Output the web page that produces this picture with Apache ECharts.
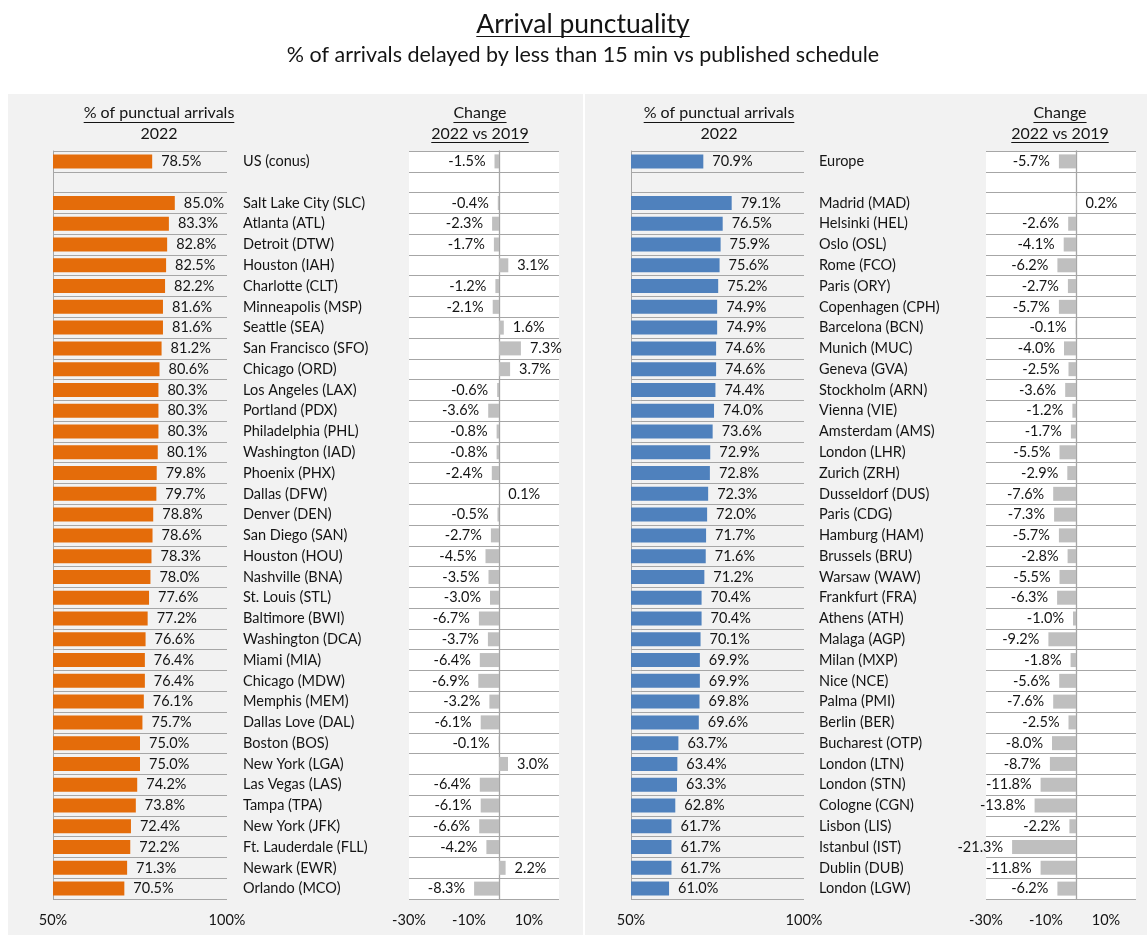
<!DOCTYPE html>
<html><head><meta charset="utf-8">
<script src="https://cdn.jsdelivr.net/npm/echarts@6/dist/echarts.min.js"></script>
<style>html,body{margin:0;padding:0;background:#fff;}#c{width:1147px;height:935px;}</style>
</head><body><div id="c"></div>
<script>
// ---------- DATA ----------
const usAirports = ['US (conus)', '', 'Salt Lake City (SLC)', 'Atlanta (ATL)', 'Detroit (DTW)', 'Houston (IAH)', 'Charlotte (CLT)', 'Minneapolis (MSP)', 'Seattle (SEA)', 'San Francisco (SFO)', 'Chicago (ORD)', 'Los Angeles (LAX)', 'Portland (PDX)', 'Philadelphia (PHL)', 'Washington (IAD)', 'Phoenix (PHX)', 'Dallas (DFW)', 'Denver (DEN)', 'San Diego (SAN)', 'Houston (HOU)', 'Nashville (BNA)', 'St. Louis (STL)', 'Baltimore (BWI)', 'Washington (DCA)', 'Miami (MIA)', 'Chicago (MDW)', 'Memphis (MEM)', 'Dallas Love (DAL)', 'Boston (BOS)', 'New York (LGA)', 'Las Vegas (LAS)', 'Tampa (TPA)', 'New York (JFK)', 'Ft. Lauderdale (FLL)', 'Newark (EWR)', 'Orlando (MCO)'];
const usPunctuality = [78.5, null, 85.0, 83.3, 82.8, 82.5, 82.2, 81.6, 81.6, 81.2, 80.6, 80.3, 80.3, 80.3, 80.1, 79.8, 79.7, 78.8, 78.6, 78.3, 78.0, 77.6, 77.2, 76.6, 76.4, 76.4, 76.1, 75.7, 75.0, 75.0, 74.2, 73.8, 72.4, 72.2, 71.3, 70.5];
const usChange = [-1.5, null, -0.4, -2.3, -1.7, 3.1, -1.2, -2.1, 1.6, 7.3, 3.7, -0.6, -3.6, -0.8, -0.8, -2.4, 0.1, -0.5, -2.7, -4.5, -3.5, -3.0, -6.7, -3.7, -6.4, -6.9, -3.2, -6.1, -0.1, 3.0, -6.4, -6.1, -6.6, -4.2, 2.2, -8.3];

const euAirports = ['Europe', '', 'Madrid (MAD)', 'Helsinki (HEL)', 'Oslo (OSL)', 'Rome (FCO)', 'Paris (ORY)', 'Copenhagen (CPH)', 'Barcelona (BCN)', 'Munich (MUC)', 'Geneva (GVA)', 'Stockholm (ARN)', 'Vienna (VIE)', 'Amsterdam (AMS)', 'London (LHR)', 'Zurich (ZRH)', 'Dusseldorf (DUS)', 'Paris (CDG)', 'Hamburg (HAM)', 'Brussels (BRU)', 'Warsaw (WAW)', 'Frankfurt (FRA)', 'Athens (ATH)', 'Malaga (AGP)', 'Milan (MXP)', 'Nice (NCE)', 'Palma (PMI)', 'Berlin (BER)', 'Bucharest (OTP)', 'London (LTN)', 'London (STN)', 'Cologne (CGN)', 'Lisbon (LIS)', 'Istanbul (IST)', 'Dublin (DUB)', 'London (LGW)'];
const euPunctuality = [70.9, null, 79.1, 76.5, 75.9, 75.6, 75.2, 74.9, 74.9, 74.6, 74.6, 74.4, 74.0, 73.6, 72.9, 72.8, 72.3, 72.0, 71.7, 71.6, 71.2, 70.4, 70.4, 70.1, 69.9, 69.9, 69.8, 69.6, 63.7, 63.4, 63.3, 62.8, 61.7, 61.7, 61.7, 61.0];
const euChange = [-5.7, null, 0.2, -2.6, -4.1, -6.2, -2.7, -5.7, -0.1, -4.0, -2.5, -3.6, -1.2, -1.7, -5.5, -2.9, -7.6, -7.3, -5.7, -2.8, -5.5, -6.3, -1.0, -9.2, -1.8, -5.6, -7.6, -2.5, -8.0, -8.7, -11.8, -13.8, -2.2, -21.3, -11.8, -6.2];

const punctTicks = [50, 100];
const changeTicks = [-30, -10, 10];

const titleText = 'Arrival punctuality';
const subtitleText = '% of arrivals delayed by less than 15 min vs published schedule';
const headPunct = ['% of punctual arrivals', '2022'];
const headChange = ['Change', '2022 vs 2019'];

// ---------- STYLE ----------
const FONT = 'Lato';
const TXT = '#141414';
const LINE = '#a6a6a6';
const ORANGE = '#E46C0A';
const BLUE = '#4F81BD';
const GREY = '#BFBFBF';
const LBL = 14.5;

const measure = (() => {
  const ctx = document.createElement('canvas').getContext('2d');
  return (t, size) => { ctx.font = size + 'px ' + FONT; return ctx.measureText(t).width; };
})();

// baseline-positioned text; underline drawn uOff px below baseline
function textEl(t, x, base, size, uOff) {
  const y = base - size * 0.32;
  const els = [{
    type: 'text', z: 5,
    style: { text: t, x: x, y: y, fill: TXT, font: size + 'px ' + FONT, textAlign: 'center', textVerticalAlign: 'middle' }
  }];
  if (uOff != null) {
    const w = measure(t, size);
    const uy = Math.round(base + uOff) + 0.5;
    els.push({ type: 'line', z: 5, shape: { x1: x - w / 2, y1: uy, x2: x + w / 2, y2: uy }, style: { stroke: TXT, lineWidth: 1 } });
  }
  return els;
}

const TOP = 151, H = 748;
const panels = [
  { cats: usAirports, punct: usPunctuality, change: usChange, color: ORANGE, pLeft: 53, pW: 174, cLeft: 409, cW: 150, nameMargin: 16, bgX: 8, bgW: 575, hc: 159, cc: 480 },
  { cats: euAirports, punct: euPunctuality, change: euChange, color: BLUE, pLeft: 631, pW: 173, cLeft: 986, cW: 150, nameMargin: 15, bgX: 585, bgW: 562, hc: 719, cc: 1060 }
];

const grid = [], xAxis = [], yAxis = [], series = [];
let graphics = [];
panels.forEach((p, i) => {
  const g0 = grid.length;
  grid.push({ left: p.pLeft, top: TOP, width: p.pW, height: H, containLabel: false });
  grid.push({ left: p.cLeft, top: TOP, width: p.cW, height: H, show: true, backgroundColor: '#ffffff', borderWidth: 0, containLabel: false });
  const axLbl = { color: TXT, fontFamily: FONT, fontSize: LBL };
  xAxis.push({ gridIndex: g0, type: 'value', min: punctTicks[0], max: punctTicks[punctTicks.length - 1], interval: 50,
    axisLine: { show: false }, axisTick: { show: false }, splitLine: { show: false },
    axisLabel: Object.assign({ margin: 14, formatter: v => punctTicks.includes(v) ? v + '%' : '' }, axLbl) });
  xAxis.push({ gridIndex: g0 + 1, type: 'value', min: -30, max: 20, interval: 10,
    axisLine: { show: false }, axisTick: { show: false }, splitLine: { show: false },
    axisLabel: Object.assign({ margin: 14, formatter: v => changeTicks.includes(v) ? v + '%' : '' }, axLbl) });
  const y0 = yAxis.length;
  yAxis.push({ gridIndex: g0, type: 'category', data: p.cats, inverse: true,
    axisLine: { show: true, lineStyle: { color: LINE, width: 1 } }, axisTick: { show: false }, axisLabel: { show: false },
    splitLine: { show: true, lineStyle: { color: LINE, width: 1 } } });
  yAxis.push({ gridIndex: g0, type: 'category', data: p.cats, inverse: true, position: 'right',
    axisLine: { show: false }, axisTick: { show: false }, splitLine: { show: false },
    axisLabel: Object.assign({ align: 'left', margin: p.nameMargin, interval: 0 }, axLbl) });
  yAxis.push({ gridIndex: g0 + 1, type: 'category', data: p.cats, inverse: true,
    axisLine: { show: true, onZero: true, lineStyle: { color: LINE, width: 1.3 } }, axisTick: { show: false }, axisLabel: { show: false },
    splitLine: { show: true, lineStyle: { color: LINE, width: 1 } } });
  series.push({ type: 'bar', xAxisIndex: g0, yAxisIndex: y0, data: p.punct, barWidth: 14,
    itemStyle: { color: p.color }, silent: true, animation: false,
    label: { show: true, position: 'right', distance: 9, color: TXT, fontFamily: FONT, fontSize: LBL,
      formatter: d => d.value == null ? '' : d.value.toFixed(1) + '%' } });
  series.push({ type: 'bar', xAxisIndex: g0 + 1, yAxisIndex: y0 + 2, barWidth: 14, clip: false,
    itemStyle: { color: GREY }, silent: true, animation: false,
    data: p.change.map(v => v == null ? null : { value: v, label: { position: v < 0 ? 'left' : 'right' } }),
    label: { show: true, distance: 9, color: TXT, fontFamily: FONT, fontSize: LBL,
      formatter: d => d.value == null ? '' : d.value.toFixed(1) + '%' } });

  graphics.push({ type: 'rect', z: -100, shape: { x: p.bgX, y: 94, width: p.bgW, height: 841 }, style: { fill: '#f2f2f2' } });
  graphics = graphics.concat(textEl(headPunct[0], p.hc, 118, 16, 4));
  graphics = graphics.concat(textEl(headPunct[1], p.hc, 139, 16, null));
  graphics = graphics.concat(textEl(headChange[0], p.cc, 118, 16, 4));
  graphics = graphics.concat(textEl(headChange[1], p.cc, 139, 16, 3));
});
graphics = graphics.concat(textEl(titleText, 583, 33, 26.5, 3));
graphics = graphics.concat(textEl(subtitleText, 583, 62, 21.5, null));

const chart = echarts.init(document.getElementById('c'), null, { renderer: 'canvas' });
chart.setOption({
  animation: false,
  backgroundColor: '#ffffff',
  textStyle: { fontFamily: FONT },
  grid, xAxis, yAxis, series,
  graphic: { elements: graphics }
});
</script></body></html>
